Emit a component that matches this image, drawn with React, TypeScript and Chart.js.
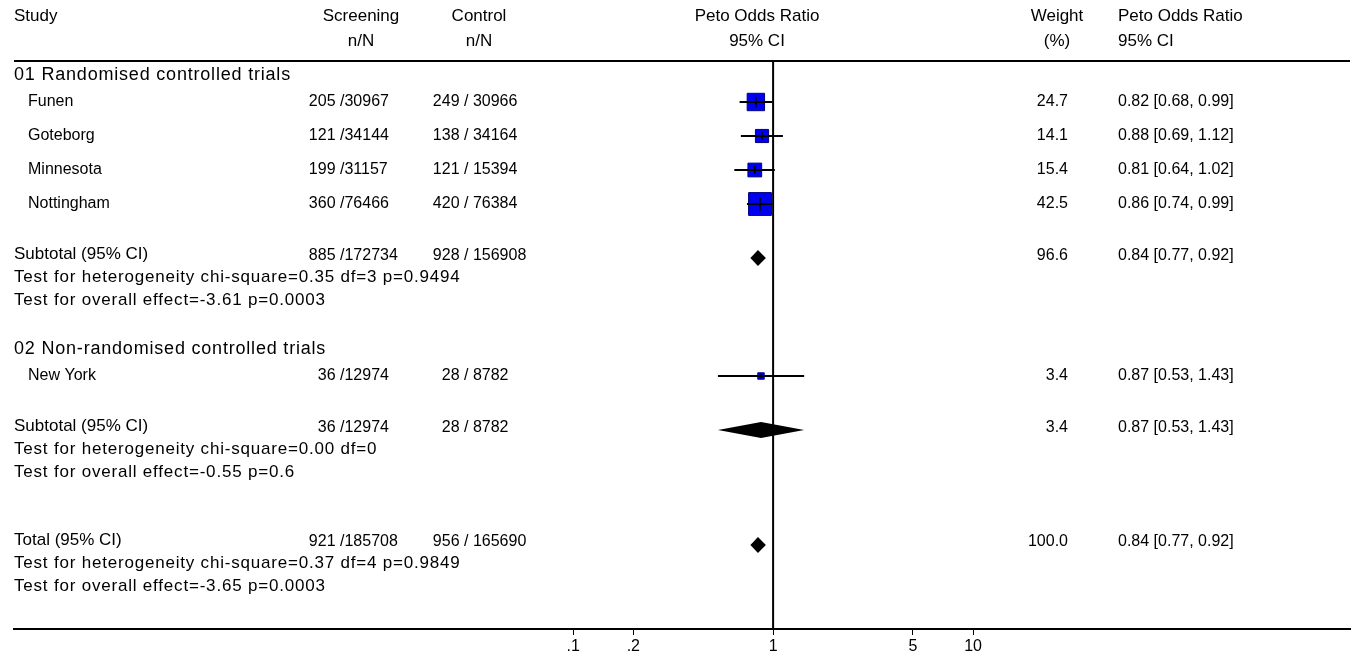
import React, { useEffect, useRef } from 'react';
import { Chart, registerables } from 'chart.js';

Chart.register(...registerables);

// ---------------- DATA ----------------
const GROUPS = ['01 Randomised controlled trials', '02 Non-randomised controlled trials'];

const STUDIES = ['Funen', 'Goteborg', 'Minnesota', 'Nottingham', 'New York'];
const STUDY_GROUP = [0, 0, 0, 0, 1];
const SCR_N = [205, 121, 199, 360, 36];
const SCR_TOTAL = [30967, 34144, 31157, 76466, 12974];
const CTL_N = [249, 138, 121, 420, 28];
const CTL_TOTAL = [30966, 34164, 15394, 76384, 8782];
const WEIGHTS = [24.7, 14.1, 15.4, 42.5, 3.4];
const OR = [0.82, 0.88, 0.81, 0.86, 0.87];
const OR_LO = [0.68, 0.69, 0.64, 0.74, 0.53];
const OR_HI = [0.99, 1.12, 1.02, 0.99, 1.43];

const SUB_SCR_N = [885, 36];
const SUB_SCR_TOTAL = [172734, 12974];
const SUB_CTL_N = [928, 28];
const SUB_CTL_TOTAL = [156908, 8782];
const SUB_WEIGHT = [96.6, 3.4];
const SUB_OR = [0.84, 0.87];
const SUB_LO = [0.77, 0.53];
const SUB_HI = [0.92, 1.43];
const SUB_HET = ['chi-square=0.35 df=3 p=0.9494', 'chi-square=0.00 df=0'];
const SUB_EFFECT = ['-3.61 p=0.0003', '-0.55 p=0.6'];

const TOTAL_SCR = [921, 185708];
const TOTAL_CTL = [956, 165690];
const TOTAL_WEIGHT = 100.0;
const TOTAL_OR = [0.84, 0.77, 0.92]; // estimate, lower, upper
const TOTAL_HET = 'chi-square=0.37 df=4 p=0.9849';
const TOTAL_EFFECT = '-3.65 p=0.0003';

const TICKS = [0.1, 0.2, 1, 5, 10];
const TICK_LABELS = ['.1', '.2', '1', '5', '10'];

// ---------------- LAYOUT / STYLE ----------------
const FONT_FAMILY = '"Liberation Sans", Arial, Helvetica, sans-serif';
const HEAD_FONT = 17;
const LABEL_FONT = 17;
const GROUP_FONT = 18;
const LABEL_SPACING = '0.8px';
const STUDY_FONT = 16;
const NUM_FONT = 16;
const X_MIN = 1.6e-4;
const X_MAX = 767;
const AXIS_Y = 629;
const AXIS_AREA_H = 660 - AXIS_Y;
const HEADER_Y1 = 16;
const HEADER_Y2 = 41;
const HEADER_LINE_Y = 61;
const LEFT_X = 14;
const RIGHT_X = 1350;
const INDENT_X = 28;
const SCR_SLASH_X = 340;
const CTL_SLASH_X = 464;
const SCR_HEAD_X = 361;
const CTL_HEAD_X = 479;
const PLOT_HEAD_X = 757;
const WEIGHT_HEAD_X = 1057;
const WEIGHT_RIGHT_X = 1068;
const CI_LEFT_X = 1118;
const BOX_SCALE = 3.5;
const DIAMOND_HALF_H = 8;
const BOX_FILL = '#0000f0';
const BOX_BORDER = '#000080';

type Row = { kind: string; idx: number; y: number };

function buildRows(): Row[] {
  const rows: Row[] = [];
  let y = 75;
  GROUPS.forEach((_, gi) => {
    if (gi > 0) y += 49;
    rows.push({ kind: 'group', idx: gi, y });
    y += 27;
    const members = STUDIES.map((_, i) => i).filter((i) => STUDY_GROUP[i] === gi);
    members.forEach((si, k) => {
      if (k > 0) y += 34;
      rows.push({ kind: 'study', idx: si, y });
    });
    y += 52;
    rows.push({ kind: 'subtotal', idx: gi, y });
    y += 21;
    rows.push({ kind: 'het', idx: gi, y });
    y += 23;
    rows.push({ kind: 'effect', idx: gi, y });
  });
  y += 70;
  rows.push({ kind: 'total', idx: 0, y });
  y += 21;
  rows.push({ kind: 'theto', idx: 0, y });
  y += 23;
  rows.push({ kind: 'teffect', idx: 0, y });
  return rows;
}

const boxSide = (w: number) => BOX_SCALE * Math.sqrt(w);
const ciText = (e: number, l: number, h: number) => `${e.toFixed(2)} [${l.toFixed(2)}, ${h.toFixed(2)}]`;

export default function App() {
  const ref = useRef<HTMLCanvasElement>(null);

  useEffect(() => {
    if (!ref.current) return;
    const rows = buildRows();
    const studyY = (i: number) => rows.find((r) => r.kind === 'study' && r.idx === i)!.y;

    const datasets: any[] = [];
    datasets.push({
      type: 'scatter',
      label: 'estimate',
      data: STUDIES.map((_, i) => ({ x: OR[i], y: studyY(i) })),
      pointStyle: 'line',
      rotation: 90,
      pointRadius: STUDIES.map((_, i) => Math.max(1.5, boxSide(WEIGHTS[i]) * 0.3)),
      borderColor: '#000',
      borderWidth: 1.5,
    });
    STUDIES.forEach((s, i) => {
      datasets.push({
        type: 'line',
        label: s + ' CI',
        data: [
          { x: OR_LO[i], y: studyY(i) },
          { x: OR_HI[i], y: studyY(i) },
        ],
        borderColor: '#000',
        borderWidth: 2,
        pointRadius: 0,
        fill: false,
      });
    });
    datasets.push({
      type: 'scatter',
      label: 'boxes',
      data: STUDIES.map((_, i) => ({ x: OR[i], y: studyY(i) })),
      pointStyle: 'rect',
      pointRadius: STUDIES.map((_, i) => boxSide(WEIGHTS[i]) / Math.SQRT2),
      backgroundColor: BOX_FILL,
      borderColor: BOX_BORDER,
      borderWidth: 1,
    });

    const forestPlugin = {
      id: 'forest',
      beforeDatasetsDraw(chart: any) {
        const ctx = chart.ctx;
        const xs = chart.scales.x;
        ctx.save();
        ctx.strokeStyle = '#000';
        ctx.lineWidth = 2;
        ctx.beginPath();
        ctx.moveTo(LEFT_X, HEADER_LINE_Y);
        ctx.lineTo(RIGHT_X, HEADER_LINE_Y);
        ctx.stroke();
        const x1 = xs.getPixelForValue(1);
        ctx.beginPath();
        ctx.moveTo(x1, HEADER_LINE_Y);
        ctx.lineTo(x1, AXIS_Y);
        ctx.stroke();
        ctx.restore();
      },
      afterDatasetsDraw(chart: any) {
        const ctx = chart.ctx;
        const xs = chart.scales.x;
        const ys = chart.scales.y;
        const diamond = (e: number, l: number, h: number, yv: number) => {
          const py = ys.getPixelForValue(yv);
          ctx.beginPath();
          ctx.moveTo(xs.getPixelForValue(l), py);
          ctx.lineTo(xs.getPixelForValue(e), py - DIAMOND_HALF_H);
          ctx.lineTo(xs.getPixelForValue(h), py);
          ctx.lineTo(xs.getPixelForValue(e), py + DIAMOND_HALF_H);
          ctx.closePath();
          ctx.fill();
        };
        ctx.save();
        ctx.fillStyle = '#000';
        rows.forEach((r) => {
          if (r.kind === 'subtotal') diamond(SUB_OR[r.idx], SUB_LO[r.idx], SUB_HI[r.idx], r.y + 2);
          if (r.kind === 'total') diamond(TOTAL_OR[0], TOTAL_OR[1], TOTAL_OR[2], r.y + 3);
        });

        ctx.textBaseline = 'middle';
        const setFont = (size: number, spacing: string) => {
          ctx.font = `${size}px ${FONT_FAMILY}`;
          (ctx as any).letterSpacing = spacing;
        };
        const t = (s: string, x: number, y: number, align: CanvasTextAlign) => {
          ctx.textAlign = align;
          ctx.fillText(s, x, y);
        };
        // headers
        setFont(HEAD_FONT, '0px');
        t('Study', LEFT_X, HEADER_Y1, 'left');
        t('Screening', SCR_HEAD_X, HEADER_Y1, 'center');
        t('n/N', SCR_HEAD_X, HEADER_Y2, 'center');
        t('Control', CTL_HEAD_X, HEADER_Y1, 'center');
        t('n/N', CTL_HEAD_X, HEADER_Y2, 'center');
        t('Peto Odds Ratio', PLOT_HEAD_X, HEADER_Y1, 'center');
        t('95% CI', PLOT_HEAD_X, HEADER_Y2, 'center');
        t('Weight', WEIGHT_HEAD_X, HEADER_Y1, 'center');
        t('(%)', WEIGHT_HEAD_X, HEADER_Y2, 'center');
        t('Peto Odds Ratio', CI_LEFT_X, HEADER_Y1, 'left');
        t('95% CI', CI_LEFT_X, HEADER_Y2, 'left');

        const nums = (sn: number, sN: number, cn: number, cN: number, w: number, ci: string, y: number) => {
          setFont(NUM_FONT, '0px');
          t(`${sn} `, SCR_SLASH_X, y, 'right');
          t(`/${sN}`, SCR_SLASH_X, y, 'left');
          t(`${cn} `, CTL_SLASH_X, y, 'right');
          t(`/ ${cN}`, CTL_SLASH_X, y, 'left');
          t(w.toFixed(1), WEIGHT_RIGHT_X, y, 'right');
          t(ci, CI_LEFT_X, y, 'left');
        };
        const label = (s: string, x: number, y: number, size: number) => {
          setFont(size, LABEL_SPACING);
          t(s, x, y, 'left');
        };

        rows.forEach((r) => {
          const y = r.y;
          const i = r.idx;
          if (r.kind === 'group') label(GROUPS[i], LEFT_X, y, GROUP_FONT);
          if (r.kind === 'study') {
            setFont(STUDY_FONT, '0px');
            t(STUDIES[i], INDENT_X, y, 'left');
            nums(SCR_N[i], SCR_TOTAL[i], CTL_N[i], CTL_TOTAL[i], WEIGHTS[i], ciText(OR[i], OR_LO[i], OR_HI[i]), y);
          }
          if (r.kind === 'subtotal') {
            setFont(LABEL_FONT, '0px');
            t('Subtotal (95% CI)', LEFT_X, y - 2, 'left');
            nums(SUB_SCR_N[i], SUB_SCR_TOTAL[i], SUB_CTL_N[i], SUB_CTL_TOTAL[i], SUB_WEIGHT[i], ciText(SUB_OR[i], SUB_LO[i], SUB_HI[i]), y);
          }
          if (r.kind === 'het') label('Test for heterogeneity ' + SUB_HET[i], LEFT_X, y, LABEL_FONT);
          if (r.kind === 'effect') label('Test for overall effect=' + SUB_EFFECT[i], LEFT_X, y, LABEL_FONT);
          if (r.kind === 'total') {
            setFont(LABEL_FONT, '0px');
            t('Total (95% CI)', LEFT_X, y - 2, 'left');
            nums(TOTAL_SCR[0], TOTAL_SCR[1], TOTAL_CTL[0], TOTAL_CTL[1], TOTAL_WEIGHT, ciText(TOTAL_OR[0], TOTAL_OR[1], TOTAL_OR[2]), y);
          }
          if (r.kind === 'theto') label('Test for heterogeneity ' + TOTAL_HET, LEFT_X, y, LABEL_FONT);
          if (r.kind === 'teffect') label('Test for overall effect=' + TOTAL_EFFECT, LEFT_X, y, LABEL_FONT);
        });
        ctx.restore();
      },
    };

    const chart = new Chart(ref.current, {
      type: 'scatter',
      data: { datasets },
      options: {
        animation: false,
        responsive: true,
        maintainAspectRatio: false,
        events: [],
        layout: { autoPadding: false, padding: { left: LEFT_X, right: 1352 - RIGHT_X, top: 0, bottom: 0 } },
        plugins: { legend: { display: false }, tooltip: { enabled: false } },
        scales: {
          x: {
            type: 'logarithmic',
            min: X_MIN,
            max: X_MAX,
            position: 'bottom',
            afterBuildTicks: (s: any) => {
              s.ticks = TICKS.map((v) => ({ value: v }));
            },
            afterFit: (s: any) => {
              s.height = AXIS_AREA_H;
            },
            border: { display: true, color: '#000', width: 2 },
            grid: { display: true, drawOnChartArea: false, drawTicks: true, tickLength: 6, color: '#000', lineWidth: 1 },
            ticks: {
              color: '#000',
              font: { family: FONT_FAMILY, size: 16 },
              padding: 2,
              autoSkip: false,
              maxRotation: 0,
              minRotation: 0,
              callback: (_v: any, i: number) => TICK_LABELS[i],
            },
          },
          y: { type: 'linear', reverse: true, min: 0, max: AXIS_Y, display: false },
        },
      } as any,
      plugins: [forestPlugin],
    });
    return () => chart.destroy();
  }, []);

  return (
    <div style={{ position: 'fixed', left: 0, top: 0, width: 1352, height: 660, background: '#fff' }}>
      <canvas ref={ref} />
    </div>
  );
}
